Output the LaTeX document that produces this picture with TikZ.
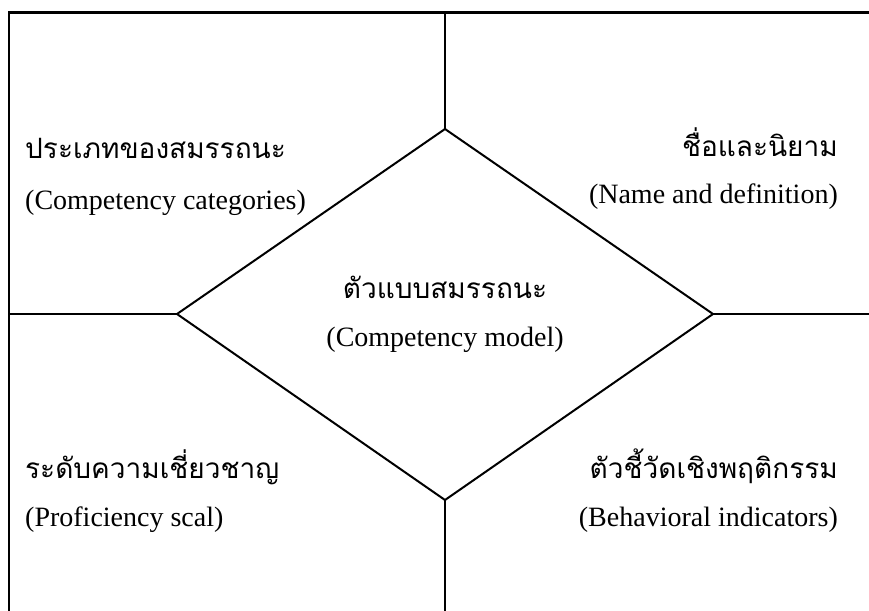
\documentclass[tikz,border=0pt]{standalone}
\usepackage{fontspec}
\setmainfont{Liberation Serif}
\newfontfamily\thaifont[Script=Thai]{Loma}
\begin{document}
\begin{tikzpicture}[x=1pt,y=-1pt,
  outer/.style={line width=2.4pt},
  inner/.style={line width=2pt},
  thai/.style={font=\thaifont\fontsize{28}{32}\selectfont, inner sep=0pt},
  latin/.style={font=\fontsize{28}{32}\selectfont, inner sep=0pt}]
\useasboundingbox (0,0) rectangle (869,610);
% frame
\coordinate (fbl) at (9,611);
\coordinate (ftl) at (9,12.5);
\coordinate (ftr) at (870,12.5);
\draw[outer] (fbl) -- (ftl) -- (ftr);
% diamond
\coordinate (T) at (445,129);
\coordinate (B) at (445,500);
\coordinate (L) at (177,314);
\coordinate (R) at (713,314);
\draw[inner, line join=miter] (T) -- (R) -- (B) -- (L) -- cycle;
% connectors
\coordinate (et) at (445,12.5);
\coordinate (eb) at (445,611);
\coordinate (el) at (9,314);
\coordinate (er) at (870,314);
\draw[inner] (T) -- (et);
\draw[inner] (B) -- (eb);
\draw[inner] (L) -- (el);
\draw[inner] (R) -- (er);
% texts
\node[thai, anchor=base west] (tl1) at (25,158) {ประเภทของสมรรถนะ};
\node[latin, anchor=base west] (tl2) at (25,209) {(Competency categories)};
\node[thai, anchor=base east] (tr1) at (838,156) {ชื่อและนิยาม};
\node[latin, anchor=base east] (tr2) at (838,203) {(Name and definition)};
\node[thai, anchor=base] (c1) at (445,298) {ตัวแบบสมรรถนะ};
\node[latin, anchor=base] (c2) at (445,346) {(Competency model)};
\node[thai, anchor=base west] (bl1) at (25,478) {ระดับความเชี่ยวชาญ};
\node[latin, anchor=base west] (bl2) at (25,526) {(Proficiency scal)};
\node[thai, anchor=base east] (br1) at (838,478) {ตัวชี้วัดเชิงพฤติกรรม};
\node[latin, anchor=base east] (br2) at (838,526) {(Behavioral indicators)};
\end{tikzpicture}
\end{document}
